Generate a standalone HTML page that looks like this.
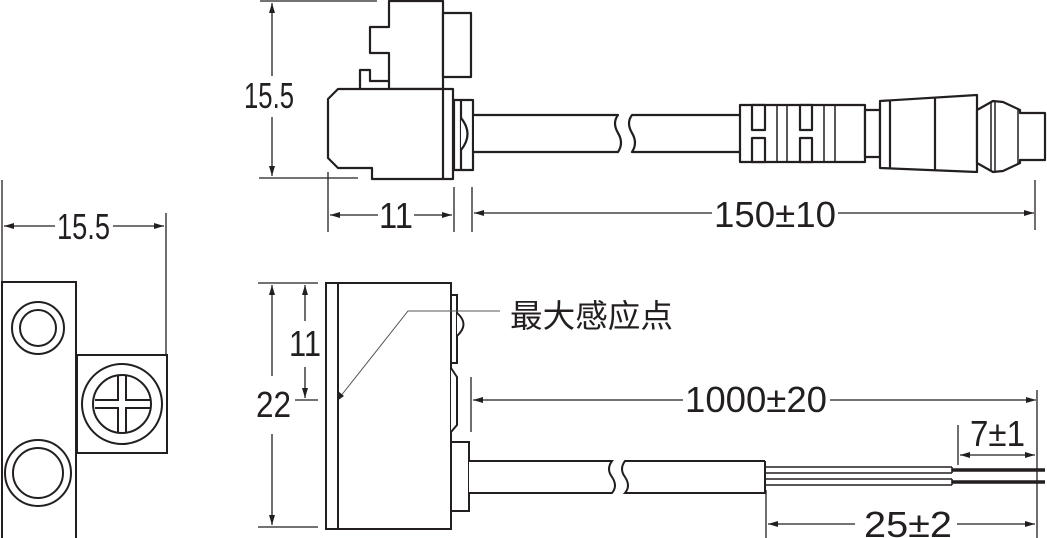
<!DOCTYPE html>
<html><head><meta charset="utf-8"><style>
html,body{margin:0;padding:0;background:#fff;}
svg{display:block;}
text{font-family:"Liberation Sans","Noto Sans CJK SC",sans-serif;fill:#231f20;}
</style></head><body>
<svg width="1047" height="538" viewBox="0 0 1047 538" xmlns="http://www.w3.org/2000/svg">
<defs>
<marker id="a" viewBox="0 0 10 6" refX="10" refY="3" markerWidth="16" markerHeight="6" markerUnits="userSpaceOnUse" orient="auto-start-reverse"><path d="M0,0 L10,3 L0,6 z" fill="#231f20"/></marker>
</defs>
<g stroke="#231f20" fill="none" stroke-width="1.3">
<line x1="260" y1="1" x2="377" y2="1"/>
<line x1="259" y1="178" x2="358" y2="178"/>
<line x1="272" y1="3" x2="272" y2="76" marker-start="url(#a)"/>
<line x1="272" y1="117" x2="272" y2="176" marker-end="url(#a)"/>
<line x1="328" y1="172" x2="328" y2="232"/>
<line x1="454" y1="187" x2="454" y2="232"/>
<line x1="472" y1="187" x2="472" y2="232"/>
<line x1="330" y1="215" x2="378" y2="215" marker-start="url(#a)"/>
<line x1="414" y1="215" x2="452" y2="215" marker-end="url(#a)"/>
<line x1="474" y1="213" x2="712" y2="213" marker-start="url(#a)"/>
<line x1="838" y1="213" x2="1034" y2="213" marker-end="url(#a)"/>
<line x1="1035" y1="180" x2="1035" y2="230"/>
</g>
<g stroke="#231f20" fill="#fff" stroke-width="2.2" stroke-linejoin="round">
<path d="M389,1 L443,1 L443,89 L389,89 L389,53 L370,53 L370,27 L389,27 Z"/>
<path d="M389,81 L370,81 L370,70 L360,70 L360,89"/>
<rect x="443" y="13" width="28" height="64"/>
<path d="M338,89 L453,89 L453,179 L372,179 L372,168 L338,168 L328,158 L328,99 Z"/>
<line x1="443" y1="89" x2="443" y2="179"/>
<rect x="454" y="100" width="19" height="70"/>
<line x1="461" y1="100" x2="461" y2="170"/>
<path d="M461,118 Q474,134 461,150"/>
<path d="M474,115 L618,115 Q612,123 618,133 Q624,143 618,152 L474,152" fill="#fff"/>
<path d="M741,115 L632,115 Q626,123 632,133 Q638,143 632,152 L741,152"/>
<path d="M740,105 L865,105 L865,162 L740,162 Z"/>
<rect x="752" y="105" width="13" height="25" fill="#fff"/>
<rect x="752" y="138" width="13" height="24" fill="#fff"/>
<rect x="800" y="105" width="12" height="25" fill="#fff"/>
<rect x="800" y="138" width="12" height="24" fill="#fff"/>
<line x1="777" y1="105" x2="777" y2="162" stroke-width="1.5"/>
<line x1="787" y1="105" x2="787" y2="162" stroke-width="1.5"/>
<line x1="824" y1="105" x2="824" y2="162" stroke-width="1.5"/>
<line x1="835" y1="105" x2="835" y2="162" stroke-width="1.5"/>
<rect x="865" y="110" width="15" height="47"/>
<path d="M880,101 L977,95 L977,172 L880,168 Z"/>
<line x1="890" y1="101" x2="890" y2="168"/>
<line x1="935" y1="98" x2="935" y2="170"/>
<path d="M977,110 L993,101 L1003,102 L1020,110 L1020,113 L1045,113 L1045,160 L1020,160 L1020,163 L1003,171 L993,172 L977,163 Z"/>
<line x1="991" y1="102" x2="991" y2="171" stroke-width="1.5"/>
<line x1="995" y1="101" x2="995" y2="172" stroke-width="1.5"/>
<line x1="1018" y1="109" x2="1018" y2="164" stroke-width="1.5"/>
</g>
<g stroke="#231f20" fill="none" stroke-width="1.3">
<line x1="2" y1="180" x2="2" y2="282"/>
<line x1="166" y1="213" x2="166" y2="355"/>
<line x1="4" y1="226" x2="55" y2="226" marker-start="url(#a)"/>
<line x1="113" y1="226" x2="164" y2="226" marker-end="url(#a)"/>
</g>
<g stroke="#231f20" fill="#fff" stroke-width="2">
<rect x="2" y="282" width="74" height="260"/>
<circle cx="38" cy="328" r="26"/>
<circle cx="38" cy="328" r="18"/>
<circle cx="38" cy="473" r="33"/>
<circle cx="38" cy="473" r="25"/>
<rect x="77" y="355" width="90" height="98"/>
<circle cx="122" cy="404" r="40"/>
<circle cx="122" cy="404" r="29"/>
<path d="M95,400 L118,400 L118,376 M126,376 L126,400 L151,400 M151,408 L126,408 L126,432 M118,432 L118,408 L95,408" fill="none"/>
</g>
<g stroke="#231f20" fill="none" stroke-width="1.3">
<line x1="258" y1="283" x2="318" y2="283"/>
<line x1="258" y1="527" x2="318" y2="527"/>
<line x1="295" y1="400" x2="318" y2="400"/>
<line x1="272" y1="285" x2="272" y2="376" marker-start="url(#a)"/>
<line x1="272" y1="434" x2="272" y2="525" marker-end="url(#a)"/>
<line x1="305" y1="285" x2="305" y2="321" marker-start="url(#a)"/>
<line x1="305" y1="367" x2="305" y2="398" marker-end="url(#a)"/>
<line x1="471" y1="377" x2="471" y2="432"/>
<line x1="473" y1="400" x2="683" y2="400" marker-start="url(#a)"/>
<line x1="830" y1="400" x2="1036" y2="400" marker-end="url(#a)"/>
<line x1="1037" y1="390" x2="1037" y2="538"/>
<line x1="958" y1="425" x2="958" y2="465"/>
<line x1="960" y1="455" x2="1035" y2="455" marker-start="url(#a)" marker-end="url(#a)"/>
<line x1="766" y1="490" x2="766" y2="538"/>
<line x1="768" y1="524" x2="855" y2="524" marker-start="url(#a)"/>
<line x1="957" y1="524" x2="1035" y2="524" marker-end="url(#a)"/>
</g>
<g stroke="#231f20" fill="#fff" stroke-width="2">
<rect x="326" y="283" width="125" height="246"/>
<line x1="338" y1="283" x2="338" y2="529"/>
<rect x="451" y="295" width="6" height="68"/>
<path d="M457,313 Q470,324 457,336"/>
<path d="M451,368 L457,377 L457,425 L451,432"/>
<rect x="451" y="442" width="18" height="69"/>
<path d="M469,461 L612,461 Q606,469 612,477 Q618,486 612,493 L469,493"/>
<path d="M765,461 L625,461 Q619,469 625,477 Q631,486 625,493 L765,493 L765,461"/>
</g>
<g stroke="#231f20" stroke-width="1.6" fill="none">
<path d="M765,467 L952,467 M765,473 L952,473 M952,467 L952,473"/>
<path d="M765,479 L952,479 M765,485 L952,485 M952,479 L952,485"/>
<line x1="952" y1="470" x2="1045" y2="470" stroke-width="3.5"/>
<line x1="952" y1="482" x2="1045" y2="482" stroke-width="3.5"/>
</g>
<g stroke="#555" stroke-width="1">
<polyline points="500,311 408,311 340,397" fill="none"/>
</g>
<path d="M337,401 L338,391 L344,396 Z" fill="#231f20"/>
<g font-size="36">
<text x="244" y="108" textLength="50" lengthAdjust="spacingAndGlyphs">15.5</text>
<text x="379" y="228" textLength="34" lengthAdjust="spacingAndGlyphs">11</text>
<text x="714" y="227" textLength="122" lengthAdjust="spacingAndGlyphs">150±10</text>
<text x="57" y="239" textLength="53" lengthAdjust="spacingAndGlyphs">15.5</text>
<text x="289" y="356" textLength="32" lengthAdjust="spacingAndGlyphs">11</text>
<text x="256" y="417" textLength="35" lengthAdjust="spacingAndGlyphs">22</text>
<text x="685" y="412" textLength="142" lengthAdjust="spacingAndGlyphs">1000±20</text>
<text x="970" y="446" textLength="55" lengthAdjust="spacingAndGlyphs">7±1</text>
<text x="864" y="537" textLength="88" lengthAdjust="spacingAndGlyphs">25±2</text>
<text x="510" y="327" font-size="32" textLength="163" lengthAdjust="spacingAndGlyphs">最大感应点</text>
</g>
</svg>
</body></html>
